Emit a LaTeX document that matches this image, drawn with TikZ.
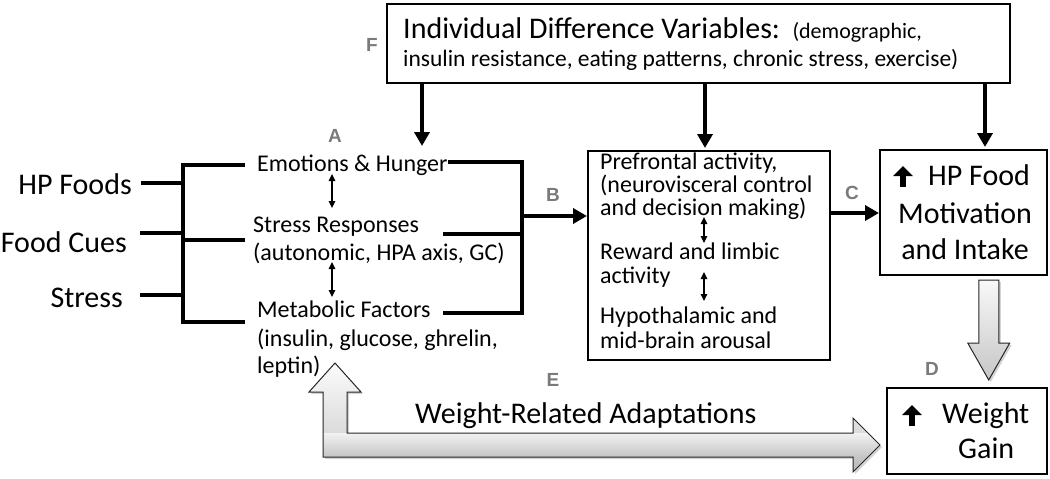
\documentclass[tikz,border=0pt]{standalone}
\usepackage{fontspec}
\setmainfont{Carlito}
\newfontfamily\lblfont{Liberation Sans}
\usetikzlibrary{arrows.meta,shadows,calc}
\newcommand\fsz[1]{\fontsize{#1}{#1}\selectfont}
\pgfdeclareverticalshading{Eshade}{100bp}{color(0bp)=(gray!55); color(25bp)=(gray!55); color(32bp)=(gray!45); color(43bp)=(gray!10); color(43.3bp)=(gray!28); color(75bp)=(gray!3); color(100bp)=(gray!3)}
\begin{document}
\begin{tikzpicture}[x=1pt,y=-1pt,
  line/.style={line width=3.5pt},
  bigarrow/.style={line width=3.5pt,-{Triangle[width=15pt,length=14pt]}},
  dbl/.style={line width=1.2pt,{Triangle[width=6.5pt,length=7pt]}-{Triangle[width=6.5pt,length=7pt]}},
  box/.style={draw,line width=1.5pt,inner sep=0pt,anchor=north west},
  txt/.style={inner sep=0pt,anchor=base west},
  rtxt/.style={inner sep=0pt,anchor=base east,font=\fsz{30}},
  letter/.style={inner sep=0pt,font=\lblfont\bfseries\fsz{19},text=black!52},
  uparrow/.style={line width=5.5pt,-{Triangle[width=19pt,length=10pt]}},
  blockarrow/.style={draw=black!85,line width=1pt,drop shadow={opacity=0.35,shadow xshift=2pt,shadow yshift=-2pt}}
]
\useasboundingbox (0,0) rectangle (1050,479);

% ---------- top box F ----------
\node[box,line width=2pt,minimum width=623pt,minimum height=79pt] (F) at (386,3) {};
\node[txt,font=\fsz{30}] (F1) at (403,38) {Individual Difference Variables:};
\node[txt,font=\fsz{22}] (F1b) at ($(F1.base east)+(12,0)$) {(demographic,};
\node[txt,font=\fsz{23.5}] (F2) at (403,66) {insulin resistance, eating patterns, chronic stress, exercise)};

% ---------- letters ----------
\node[letter] (lF) at (372,45) {F};
\node[letter] (lA) at (335,136) {A};
\node[letter] (lB) at (553,195) {B};
\node[letter] (lC) at (852,193) {C};
\node[letter] (lD) at (932,369) {D};
\node[letter] (lE) at (553,380) {E};

% ---------- left inputs ----------
\node[rtxt] (hp) at (132,194) {HP Foods};
\node[rtxt] (cues) at (127,252) {Food Cues};
\node[rtxt] (stress) at (123,307) {Stress};

\coordinate (hpE) at (141,183);
\coordinate (cuesE) at (140,233);
\coordinate (stE) at (140,295);
\coordinate (bt) at (183,165);
\coordinate (bm) at (183,240);
\coordinate (bb) at (183,322);
\coordinate (emoL) at (245,165);
\coordinate (srL) at (245,240);
\coordinate (mfL) at (245,322);

\draw[line] (hpE) -- (hpE -| bt);
\draw[line] (cuesE) -- (cuesE -| bt);
\draw[line] (stE) -- (stE -| bt);
\draw[line] (emoL) -- (bt) -- (bb) -- (mfL);
\draw[line] (bm) -- (srL);

% ---------- column A ----------
\node[txt,font=\fsz{24}] (emo) at (257,171) {Emotions \& Hunger};
\node[txt,font=\fsz{24}] (sr1) at (253,232) {Stress Responses};
\node[txt,font=\fsz{24}] (sr2) at (253,260) {(autonomic, HPA axis, GC)};
\node[txt,font=\fsz{24}] (mf1) at (257,317) {Metabolic Factors};
\node[txt,font=\fsz{24}] (mf2) at (257,346) {(insulin, glucose, ghrelin,};
\node[txt,font=\fsz{24}] (mf3) at (257,373) {leptin)};

\coordinate (d1a) at (332,174);
\coordinate (d1b) at (332,208);
\coordinate (d2a) at (332,262);
\coordinate (d2b) at (332,297);
\draw[dbl] (d1a) -- (d1b);
\draw[dbl] (d2a) -- (d2b);

\coordinate (emoR) at (448,162);
\coordinate (srR) at (443,234);
\coordinate (mfR) at (443,313);
\coordinate (rt) at (522,162);
\coordinate (rb) at (522,313);
\coordinate (rm) at (522,216);
\draw[line] (emoR) -- (rt) -- (rb) -- (mfR);
\draw[line] (srR) -- (srR -| rt);

% ---------- middle box ----------
\node[box,minimum width=242pt,minimum height=209pt] (pf) at (587,150) {};
\node[txt,font=\fsz{24}] (pf1) at (600,169) {Prefrontal activity,};
\node[txt,font=\fsz{24}] (pf2) at (600,192) {(neurovisceral control};
\node[txt,font=\fsz{24}] (pf3) at (600,215) {and decision making)};
\node[txt,font=\fsz{24}] (rw1) at (600,259) {Reward and limbic};
\node[txt,font=\fsz{24}] (rw2) at (600,283) {activity};
\node[txt,font=\fsz{24}] (hy1) at (600,323) {Hypothalamic and};
\node[txt,font=\fsz{24}] (hy2) at (600,348) {mid-brain arousal};
\coordinate (d3a) at (704,217);
\coordinate (d3b) at (704,243);
\coordinate (d4a) at (704,272);
\coordinate (d4b) at (704,301);
\draw[dbl] (d3a) -- (d3b);
\draw[dbl] (d4a) -- (d4b);

\draw[bigarrow] (rm) -- (pf.west |- rm);

% ---------- motivation box ----------
\node[box,minimum width=167pt,minimum height=125pt] (mot) at (879,149) {};
\coordinate (up1a) at (903,187);
\coordinate (up1b) at (903,166);
\draw[uparrow] (up1a) -- (up1b);
\node[txt,font=\fsz{30}] (mot1) at (928,185) {HP Food};
\node[inner sep=0pt,anchor=base,font=\fsz{30}] (mot2) at (965,223) {Motivation};
\node[inner sep=0pt,anchor=base,font=\fsz{30}] (mot3) at (965,259) {and Intake};

\coordinate (cy) at (850,213);
\draw[bigarrow] (pf.east |- cy) -- (mot.west |- cy);

% ---------- weight gain box ----------
\node[box,minimum width=160pt,minimum height=86pt] (wg) at (886,387) {};
\coordinate (up2a) at (912,426);
\coordinate (up2b) at (912,405);
\draw[uparrow] (up2a) -- (up2b);
\node[txt,font=\fsz{30}] (wg1) at (942,423) {Weight};
\node[txt,font=\fsz{30}] (wg2) at (958,458) {Gain};

% ---------- arrows from F ----------
\coordinate (fa1) at (422,146);
\coordinate (fa2) at (705,148);
\coordinate (fa3) at (985,147);
\draw[bigarrow] (F.south -| fa1) -- (fa1);
\draw[bigarrow] (F.south -| fa2) -- (fa2);
\draw[bigarrow] (F.south -| fa3) -- (fa3);

% ---------- block arrow D ----------
\coordinate (Dtip) at ($(wg.north)+(22,-7)$);
\path[blockarrow,top color=gray!5,bottom color=gray!45]
  (Dtip) -- ++(-21,-37) -- ++(11,0) -- ++(0,-63) -- ++(20,0) -- ++(0,63) -- ++(11,0) -- cycle;

% ---------- block arrow E ----------
\coordinate (Eup) at (335,363);
\coordinate (Eright) at (880,445);
\path[blockarrow,shade,shading=Eshade]
  (Eup) -- (361,392) -- (347,392) -- (347,433) -- (853,433) -- (853,418) -- (Eright)
  -- (853,472) -- (853,457) -- (323,457) -- (323,392) -- (309,392) -- cycle;
\node[txt,font=\fsz{30}] (wra) at (415,423) {Weight-Related Adaptations};

\end{tikzpicture}
\end{document}
